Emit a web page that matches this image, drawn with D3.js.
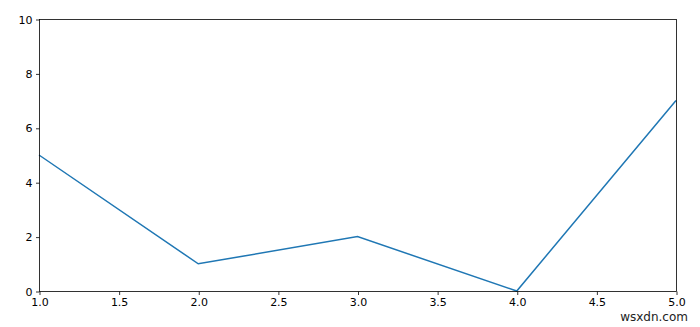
<!DOCTYPE html>
<html><head><meta charset="utf-8">
<script src="https://cdn.jsdelivr.net/npm/d3@7"></script>
<style>body{margin:0;background:#fff}svg{display:block}text{font-family:"DejaVu Sans",sans-serif}</style>
</head><body>
<script>
const xValues = [1, 2, 3, 4, 5];
const yValues = [5, 1, 2, 0, 7];
const xTicks = [1.0, 1.5, 2.0, 2.5, 3.0, 3.5, 4.0, 4.5, 5.0];
const yTicks = [0, 2, 4, 6, 8, 10];

const W = 700, H = 327;
const m = {left: 39, top: 19, right: 676, bottom: 291};
const svg = d3.select("body").append("svg").attr("width", W).attr("height", H);
const x = d3.scaleLinear().domain([1, 5]).range([m.left, m.right]);
const y = d3.scaleLinear().domain([0, 10]).range([m.bottom, m.top]);

const gx = svg.append("g").attr("transform", `translate(0.5,${m.bottom + 0.5})`)
  .call(d3.axisBottom(x).tickValues(xTicks).tickFormat(d3.format(".1f")).tickSizeOuter(0).tickSize(3.5).tickPadding(3.5));
const gy = svg.append("g").attr("transform", `translate(${m.left + 0.5},0.5)`)
  .call(d3.axisLeft(y).tickValues(yTicks).tickFormat(d3.format("d")).tickSizeOuter(0).tickSize(3.5).tickPadding(3.5));
[gx, gy].forEach(g => {
  g.select(".domain").remove();
  g.selectAll("text").attr("font-size", 11).attr("fill", "#000");
  g.selectAll("line").attr("stroke", "#000").attr("stroke-width", 0.8);
});

svg.append("path")
  .datum(xValues.map((v, i) => [v, yValues[i]]))
  .attr("fill", "none").attr("stroke", "#1f77b4").attr("stroke-width", 1.5)
  .attr("d", d3.line().x(d => x(d[0])).y(d => y(d[1])));

svg.append("rect").attr("x", m.left + 0.5).attr("y", m.top + 0.5)
  .attr("width", m.right - m.left).attr("height", m.bottom - m.top)
  .attr("fill", "none").attr("stroke", "#000").attr("stroke-width", 0.8);

svg.append("text").attr("x", 688).attr("y", 321).attr("text-anchor", "end")
  .attr("font-size", 12).attr("fill", "#222").text("wsxdn.com");
</script>
</body></html>
